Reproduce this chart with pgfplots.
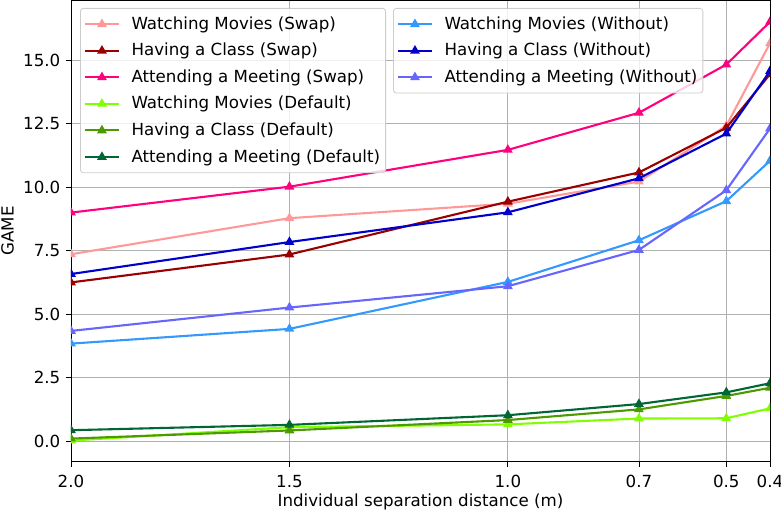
\documentclass[border=0pt]{standalone}
\usepackage{fontspec}
\setmainfont{DejaVu Sans}
\usepackage{pgfplots}
\pgfplotsset{compat=1.18}
\definecolor{swm}{HTML}{FF9999}
\definecolor{shc}{HTML}{990000}
\definecolor{sam}{HTML}{FF007F}
\definecolor{dwm}{HTML}{80FF00}
\definecolor{dhc}{HTML}{4C9900}
\definecolor{dam}{HTML}{006633}
\definecolor{wwm}{HTML}{3399FF}
\definecolor{whc}{HTML}{0000CC}
\definecolor{wam}{HTML}{6666FF}
\begin{document}
\fontsize{16.67}{19.5}\selectfont
\begin{tikzpicture}
\pgfplotsset{
  base/.style={
    width=699pt, height=461.4pt, scale only axis,
    xmin=0.4, xmax=2.0, ymin=-0.81, ymax=17.36, x dir=reverse,
    clip marker paths=true,
    every axis plot/.append style={line width=2.1pt, mark=triangle*, mark size=3.6pt, mark options={solid}},
    legend cell align=left,
    legend image code/.code={\draw[mark repeat=2,mark phase=2] plot coordinates {(0pt,0pt) (17pt,0pt) (34pt,0pt)};},
    legend style={anchor=north west, draw=black!20, line width=0.8pt, rounded corners=3pt,
      fill=white, fill opacity=0.8, text opacity=1, draw opacity=1,
      font=\fontsize{16.67}{19.5}\selectfont, inner xsep=3.5pt, inner ysep=5.7pt,
      row sep=6.4pt, column sep=9.5pt, nodes={inner xsep=2pt, inner ysep=2.5pt}},
  },
}
\begin{axis}[base, name=main,
  xtick={2.0,1.5,1.0,0.7,0.5,0.4}, xticklabels={2.0,1.5,1.0,0.7,0.5,0.4},
  ytick={0,2.5,5,7.5,10,12.5,15}, yticklabels={0.0,2.5,5.0,7.5,10.0,12.5,15.0},
  grid=major, major grid style={color=black!31, line width=0.8pt},
  axis line style={line width=0.8pt},
  tick align=outside, tick pos=left, major tick length=4.9pt,
  tick style={black, line width=0.8pt},
  ticklabel style={font=\fontsize{16.67}{19.5}\selectfont},
  xticklabel style={yshift=-2.5pt},
  /pgf/number format/assume math mode=true,
  xlabel={Individual separation distance (m)}, ylabel={GAME},
  xlabel style={at={(axis description cs:0.5,-0.0971)}, anchor=base, inner sep=0pt},
  ylabel style={at={(axis description cs:-0.1001,0.5)}, anchor=north, inner sep=0pt},
  legend style={at={(0.0129,0.9833)}},
]
\addplot[color=swm] coordinates {(2.0,7.36)(1.5,8.78)(1.0,9.35)(0.7,10.22)(0.5,12.42)(0.4,15.67)};
\addlegendentry{Watching Movies (Swap)}
\addplot[color=shc] coordinates {(2.0,6.25)(1.5,7.35)(1.0,9.43)(0.7,10.58)(0.5,12.34)(0.4,14.45)};
\addlegendentry{Having a Class (Swap)}
\addplot[color=sam] coordinates {(2.0,9.0)(1.5,10.02)(1.0,11.47)(0.7,12.93)(0.5,14.83)(0.4,16.51)};
\addlegendentry{Attending a Meeting (Swap)}
\addplot[color=dwm] coordinates {(2.0,0.02)(1.5,0.55)(1.0,0.66)(0.7,0.89)(0.5,0.90)(0.4,1.29)};
\addlegendentry{Watching Movies (Default)}
\addplot[color=dhc] coordinates {(2.0,0.10)(1.5,0.42)(1.0,0.83)(0.7,1.25)(0.5,1.78)(0.4,2.10)};
\addlegendentry{Having a Class (Default)}
\addplot[color=dam] coordinates {(2.0,0.43)(1.5,0.64)(1.0,1.02)(0.7,1.46)(0.5,1.92)(0.4,2.28)};
\addlegendentry{Attending a Meeting (Default)}
\end{axis}
\begin{axis}[base, hide axis,
  legend style={at={(0.4607,0.9833)}},
]
\addplot[color=wwm] coordinates {(2.0,3.84)(1.5,4.42)(1.0,6.27)(0.7,7.91)(0.5,9.45)(0.4,11.04)};
\addlegendentry{Watching Movies (Without)}
\addplot[color=whc] coordinates {(2.0,6.58)(1.5,7.84)(1.0,9.01)(0.7,10.35)(0.5,12.11)(0.4,14.57)};
\addlegendentry{Having a Class (Without)}
\addplot[color=wam] coordinates {(2.0,4.34)(1.5,5.26)(1.0,6.10)(0.7,7.53)(0.5,9.88)(0.4,12.31)};
\addlegendentry{Attending a Meeting (Without)}
\end{axis}
\pgfresetboundingbox
\path[use as bounding box] ([shift={(-71pt,-51.3pt)}]main.south west) rectangle ([shift={(11pt,0.3pt)}]main.north east);
\end{tikzpicture}
\end{document}
